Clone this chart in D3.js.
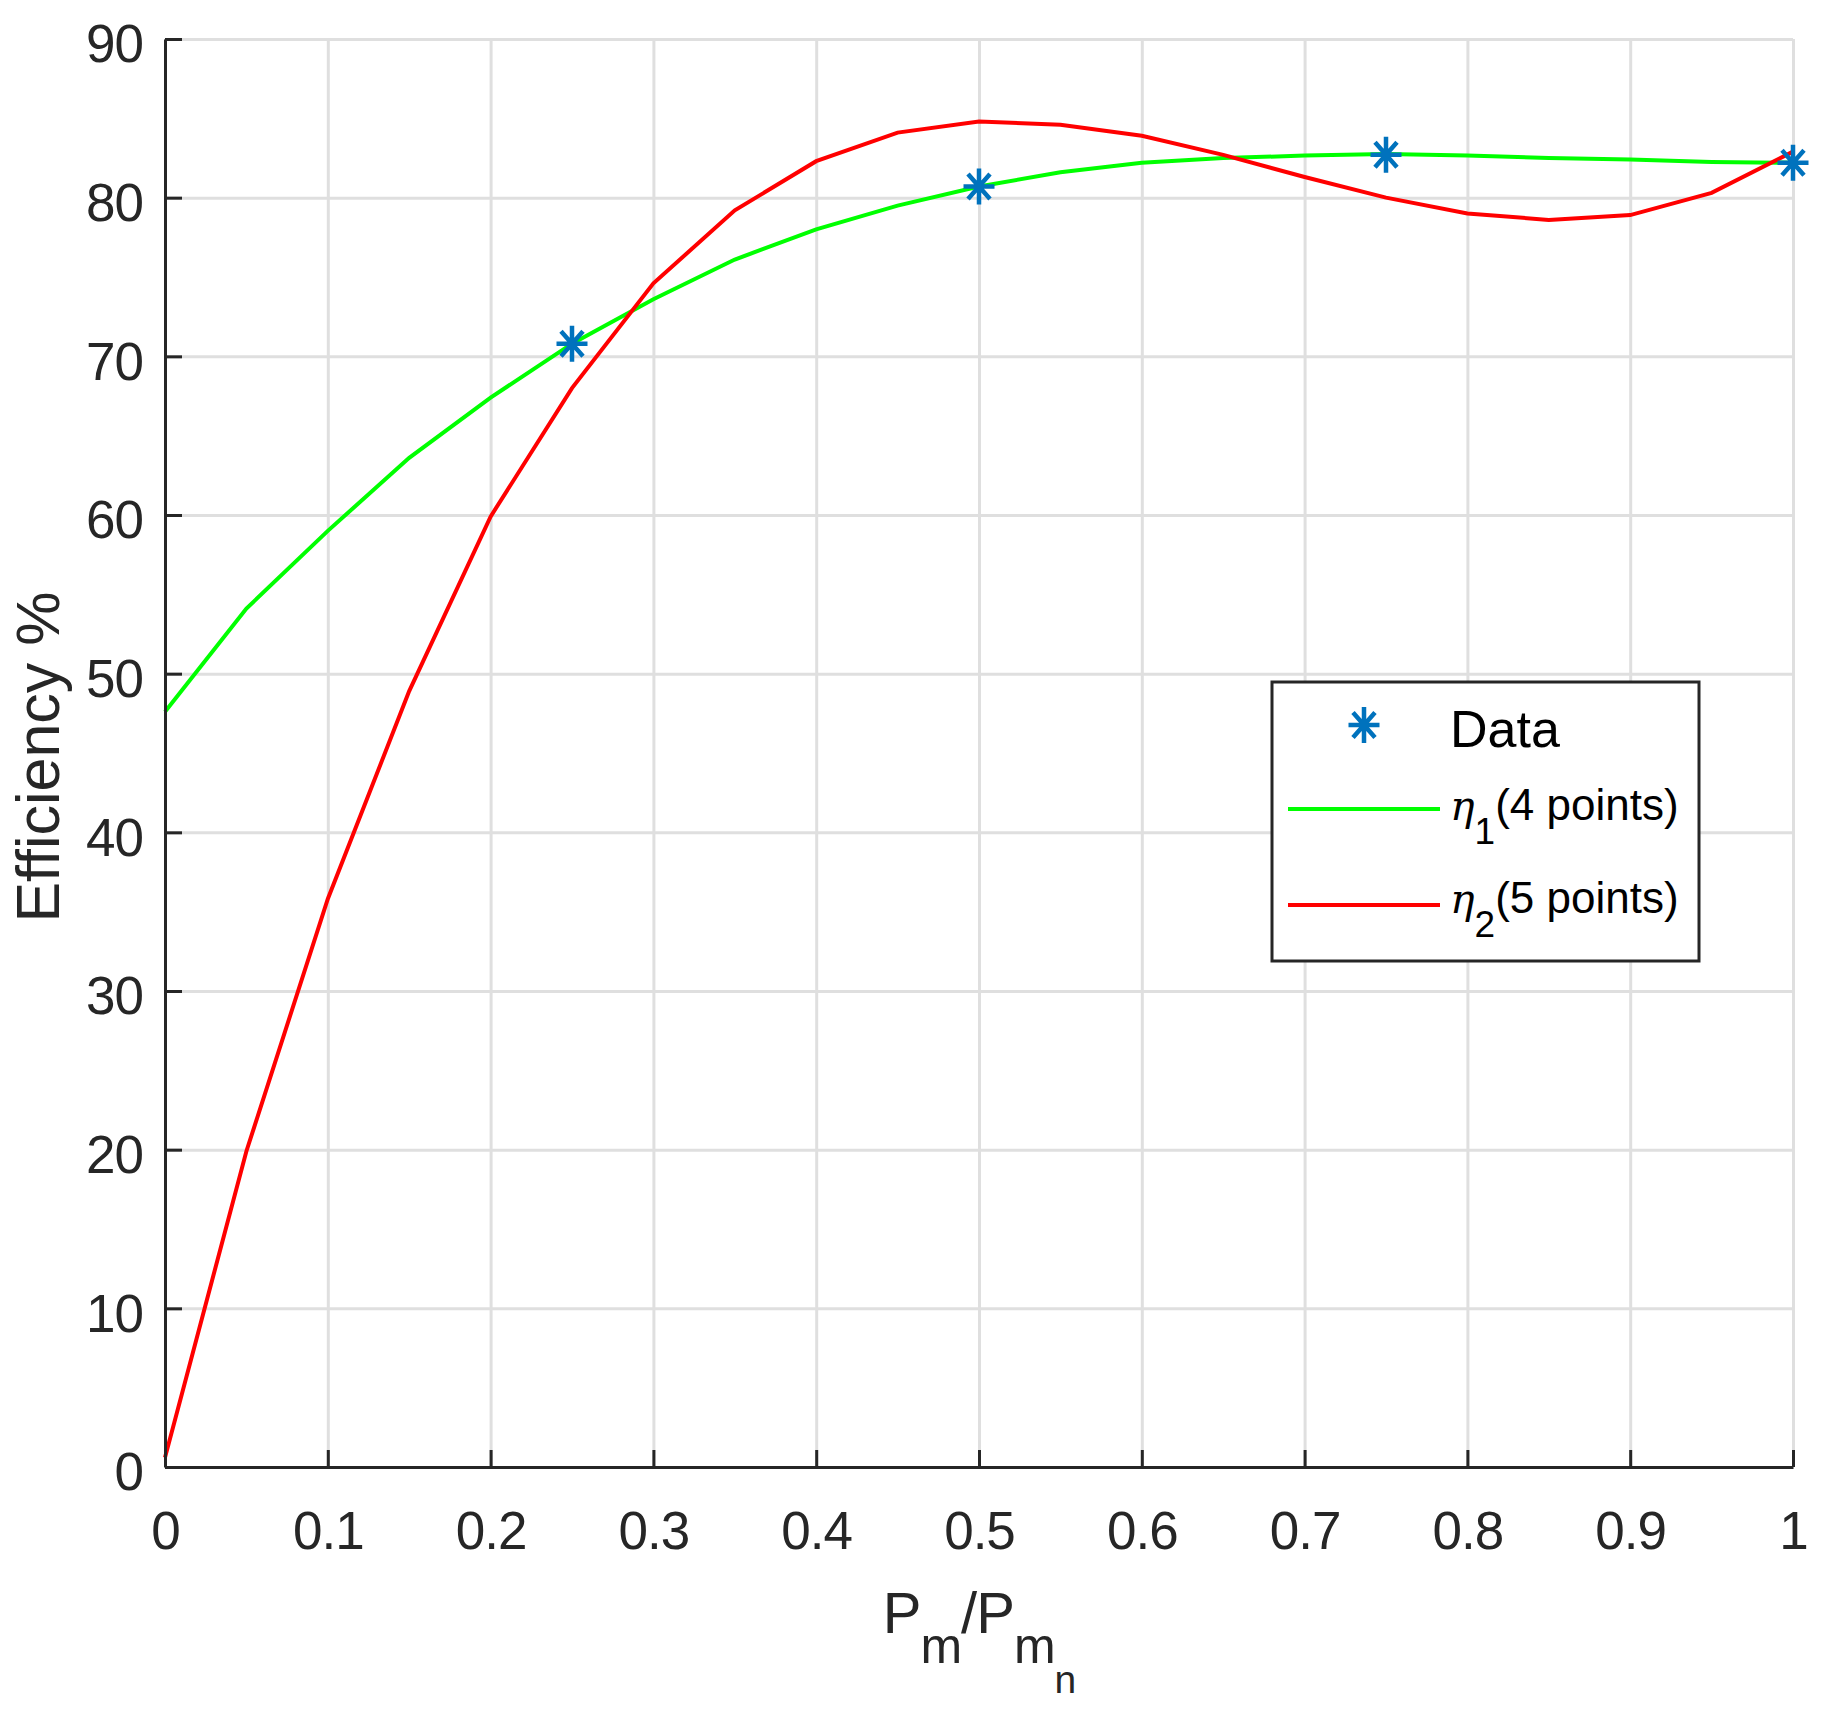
<!DOCTYPE html>
<html>
<head>
<meta charset="utf-8">
<script src="https://cdn.jsdelivr.net/npm/d3@7"></script>
<style>
  body { margin: 0; background: #fff; }
  svg { display: block; font-family: "Liberation Sans", Arial, Helvetica, sans-serif; }
</style>
</head>
<body>
<svg id="svg" width="1843" height="1723"></svg>
<script>
(function() {
  'use strict';

  // sample points of the two fitted curves
  var xSamples = [0, 0.05, 0.1, 0.15, 0.2, 0.25, 0.3, 0.35, 0.4, 0.45, 0.5,
                  0.55, 0.6, 0.65, 0.7, 0.75, 0.8, 0.85, 0.9, 0.95, 1];
  var eta1 = [47.6, 54.1, 59.0, 63.6, 67.4, 70.8, 73.6, 76.1, 78.0, 79.5, 80.7,
              81.6, 82.2, 82.5, 82.65, 82.75, 82.65, 82.5, 82.4, 82.25, 82.2];
  var eta2 = [0.6, 19.9, 35.8, 48.9, 59.9, 68.0, 74.6, 79.2, 82.3, 84.1, 84.8,
              84.6, 83.9, 82.7, 81.3, 80.0, 79.0, 78.6, 78.9, 80.3, 82.9];

  // measured points
  var dataX = [0.25, 0.5, 0.75, 1];
  var dataY = [70.8, 80.7, 82.7, 82.2];

  var xTicks = [0, 0.1, 0.2, 0.3, 0.4, 0.5, 0.6, 0.7, 0.8, 0.9, 1];
  var yTicks = [0, 10, 20, 30, 40, 50, 60, 70, 80, 90];

  var left = 165, top = 39, width = 1628, height = 1428;
  var axisColor = '#262626';

  var svg = d3.select('#svg');
  var g = svg.append('g').attr('transform', 'translate(' + left + ',' + top + ')');

  var x = d3.scaleLinear().domain([0, 1]).range([0, width]);
  var y = d3.scaleLinear().domain([0, 90]).range([height, 0]);

  // grid
  var gridX = g.append('g')
    .attr('transform', 'translate(0,' + height + ')')
    .call(d3.axisBottom(x).tickValues(xTicks).tickSize(-height).tickFormat(''));
  var gridY = g.append('g')
    .call(d3.axisLeft(y).tickValues(yTicks).tickSize(-width).tickFormat(''));
  [gridX, gridY].forEach(function(s) {
    s.select('.domain').remove();
    s.selectAll('line').attr('stroke', '#dfdfdf').attr('stroke-width', 3);
  });

  // curves
  var line = d3.line()
    .x(function(d) { return x(d[0]); })
    .y(function(d) { return y(d[1]); });

  g.append('path')
    .attr('d', line(d3.zip(xSamples, eta1)))
    .attr('fill', 'none').attr('stroke', '#00ff00').attr('stroke-width', 4);
  g.append('path')
    .attr('d', line(d3.zip(xSamples, eta2)))
    .attr('fill', 'none').attr('stroke', '#ff0000').attr('stroke-width', 4);

  // asterisk marker like matlab '*'
  var starPath = 'M0,-18V18M-15.5,0H15.5M-11,-12.5L11,12.5M-11,12.5L11,-12.5';
  g.selectAll('.star')
    .data(d3.zip(dataX, dataY))
    .enter().append('path')
    .attr('class', 'star')
    .attr('transform', function(d) { return 'translate(' + x(d[0]) + ',' + y(d[1]) + ')'; })
    .attr('d', starPath)
    .attr('fill', 'none').attr('stroke', '#0072bd').attr('stroke-width', 4.5);

  // axes
  var xAxis = g.append('g')
    .attr('transform', 'translate(0,' + height + ')')
    .call(d3.axisBottom(x).tickValues(xTicks).tickSizeInner(-17).tickSizeOuter(0)
      .tickPadding(44).tickFormat(d3.format('')));
  var yAxis = g.append('g')
    .call(d3.axisLeft(y).tickValues(yTicks).tickSizeInner(-17).tickSizeOuter(0)
      .tickPadding(22));
  [xAxis, yAxis].forEach(function(s) {
    s.select('.domain').attr('stroke', axisColor).attr('stroke-width', 3);
    s.selectAll('line').attr('stroke', axisColor).attr('stroke-width', 3);
    s.selectAll('text').attr('fill', axisColor)
      .style('font-size', '53px').style('font-family', null)
      .style('letter-spacing', '-1px');
  });
  yAxis.selectAll('text').attr('dy', '0.43em');

  // axis labels
  var xl = svg.append('text')
    .attr('x', left + width / 2).attr('y', 1633)
    .attr('text-anchor', 'middle').attr('fill', axisColor)
    .style('font-size', '58px').style('letter-spacing', '-1px');
  xl.append('tspan').text('P');
  xl.append('tspan').attr('dy', 30).style('font-size', '50px').text('m');
  xl.append('tspan').attr('dy', -30).text('/P');
  xl.append('tspan').attr('dy', 30).style('font-size', '50px').text('m');
  xl.append('tspan').attr('dy', 30).style('font-size', '39px').text('n');

  svg.append('text')
    .attr('transform', 'translate(59,' + (top + height / 2 + 4) + ') rotate(-90)')
    .attr('text-anchor', 'middle').attr('fill', axisColor)
    .style('font-size', '61px')
    .text('Efficiency %');

  // legend
  var leg = svg.append('g');
  leg.append('rect')
    .attr('x', 1272).attr('y', 682).attr('width', 427).attr('height', 279)
    .attr('fill', '#fff').attr('stroke', axisColor).attr('stroke-width', 3);
  leg.append('path')
    .attr('transform', 'translate(1364,725)')
    .attr('d', starPath)
    .attr('fill', 'none').attr('stroke', '#0072bd').attr('stroke-width', 4.5);
  leg.append('text').attr('x', 1450).attr('y', 747)
    .style('font-size', '52px').attr('fill', '#000').text('Data');

  var legItems = [
    { color: '#00ff00', ly: 809, ty: 820, sub: '1', label: '(4 points)' },
    { color: '#ff0000', ly: 905, ty: 913, sub: '2', label: '(5 points)' }
  ];
  legItems.forEach(function(it) {
    leg.append('line')
      .attr('x1', 1288).attr('x2', 1440).attr('y1', it.ly).attr('y2', it.ly)
      .attr('stroke', it.color).attr('stroke-width', 4);
    var t = leg.append('text').attr('x', 1450).attr('y', it.ty)
      .attr('fill', '#000').style('font-size', '44px');
    t.append('tspan').style('font-style', 'italic')
      .style('font-family', '"DejaVu Serif", "Liberation Serif", serif')
      .style('font-size', '41px').text('η');
    t.append('tspan').attr('dy', 24).style('font-size', '37px').text(it.sub);
    t.append('tspan').attr('dy', -24).text(it.label);
  });
}());
</script>
</body>
</html>
